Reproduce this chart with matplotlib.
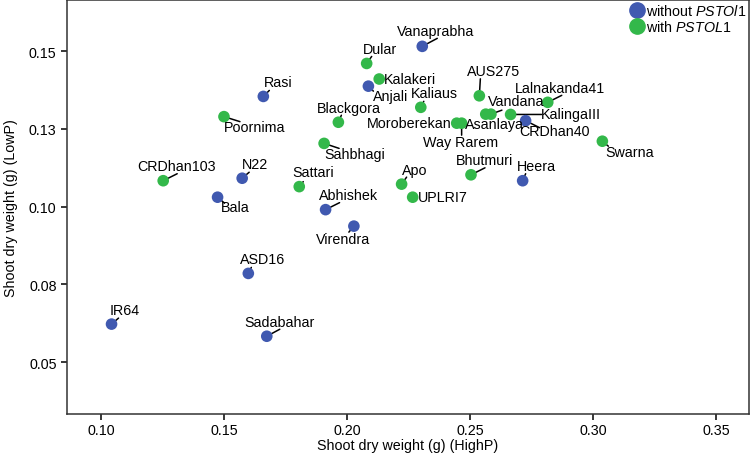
import matplotlib.pyplot as plt
from matplotlib.lines import Line2D

plt.rcParams['font.family'] = ['Liberation Sans', 'DejaVu Sans']
plt.rcParams['mathtext.fontset'] = 'custom'
plt.rcParams['mathtext.it'] = 'Liberation Sans:italic'
plt.rcParams['mathtext.rm'] = 'Liberation Sans'

# varieties without PSTOL1
blue_names = ['Vanaprabha', 'Anjali', 'CRDhan40', 'Heera', 'Rasi', 'N22', 'Bala',
              'Abhishek', 'Virendra', 'ASD16', 'IR64', 'Sadabahar']
blue_high = [0.2306, 0.2087, 0.2726, 0.2714, 0.1660, 0.1574, 0.1474,
             0.1913, 0.2028, 0.1599, 0.1043, 0.1674]
blue_low = [0.1515, 0.1387, 0.1276, 0.1083, 0.1354, 0.1091, 0.1030,
            0.0990, 0.0937, 0.0785, 0.0622, 0.0583]

# varieties with PSTOL1
green_names = ['Dular', 'Kalakeri', 'Kaliaus', 'Blackgora', 'Sahbhagi', 'AUS275',
               'Moroberekan', 'Way Rarem', 'Asanlaya', 'Vandana', 'KalingaIII',
               'Lalnakanda41', 'Swarna', 'Bhutmuri', 'Apo', 'UPLRI7', 'Poornima',
               'CRDhan103', 'Sattari']
green_high = [0.2080, 0.2131, 0.2300, 0.1965, 0.1907, 0.2538,
              0.2446, 0.2466, 0.2564, 0.2585, 0.2665,
              0.2816, 0.3038, 0.2504, 0.2222, 0.2267, 0.1500,
              0.1253, 0.1806]
green_low = [0.1460, 0.1410, 0.1319, 0.1271, 0.1203, 0.1356,
             0.1268, 0.1268, 0.1297, 0.1297, 0.1296,
             0.1335, 0.1210, 0.1102, 0.1072, 0.1030, 0.1289,
             0.1083, 0.1064]

# label centre offsets in pixels (dx right, dy down) relative to the point
offsets = {
    'Vanaprabha': (13, -15), 'Anjali': (22, 10), 'CRDhan40': (29, 10),
    'Heera': (14, -15), 'Rasi': (15, -14), 'N22': (13, -14), 'Bala': (18, 10),
    'Abhishek': (23, -15), 'Virendra': (-11, 13), 'ASD16': (14, -14),
    'IR64': (13, -14), 'Sadabahar': (13, -14),
    'Dular': (13, -14), 'Kalakeri': (31, 0), 'Kaliaus': (14, -14),
    'Blackgora': (11, -14), 'Sahbhagi': (31, 11), 'AUS275': (14, -25),
    'Moroberekan': (-47, 0), 'Way Rarem': (-1, 19), 'Asanlaya': (9, 10),
    'Vandana': (25, -13), 'KalingaIII': (60, 0), 'Lalnakanda41': (12, -14),
    'Swarna': (27, 11), 'Bhutmuri': (14, -15), 'Apo': (13, -14),
    'UPLRI7': (30, 0), 'Poornima': (31, 10), 'CRDhan103': (13, -15),
    'Sattari': (14, -15),
}

# end of the connector segment in pixels relative to the point (None = no segment)
seg_ends = {
    'Vanaprabha': (15, -8), 'Anjali': (5, 5), 'CRDhan40': (14, 7),
    'Heera': (3, -7), 'Rasi': (6, -6), 'N22': (7, -6), 'Bala': (7, 6),
    'Abhishek': (14, -7), 'Virendra': (-5, 6), 'ASD16': (3, -6),
    'IR64': (7, -6), 'Sadabahar': (13, -7),
    'Dular': (5, -7), 'Kalakeri': None, 'Kaliaus': (3, -6),
    'Blackgora': (3, -7), 'Sahbhagi': (15, 5), 'AUS275': (1, -17),
    'Moroberekan': None, 'Way Rarem': (0, 12), 'Asanlaya': None,
    'Vandana': (11, -4), 'KalingaIII': (31, 0), 'Lalnakanda41': (14, -7),
    'Swarna': (6, 5), 'Bhutmuri': (14, -7), 'Apo': (5, -7),
    'UPLRI7': None, 'Poornima': (16, 5), 'CRDhan103': (14, -7),
    'Sattari': (4, -5),
}

blue = '#4059b0'
green = '#33b84a'
fs = 10.3

fig = plt.figure(figsize=(7.51, 4.64), dpi=100)
ax = fig.add_axes([67 / 751, 1 - 415 / 464, 682 / 751, 414 / 464])

ax.scatter(blue_high, blue_low, s=70, color=blue, edgecolors='none', zorder=3)
ax.scatter(green_high, green_low, s=70, color=green, edgecolors='none', zorder=3)

px = 0.72  # pixels -> points
for names, xs, ys in [(blue_names, blue_high, blue_low), (green_names, green_high, green_low)]:
    for n, x, y in zip(names, xs, ys):
        dx, dy = offsets[n]
        ax.annotate(n, (x, y), xytext=(dx * px, -dy * px), textcoords='offset points',
                    ha='center', va='center', fontsize=fs, zorder=4)
        if seg_ends[n] is not None:
            ex, ey = seg_ends[n]
            ax.annotate('', (x, y), xytext=(ex * px, -ey * px), textcoords='offset points',
                        zorder=2, arrowprops=dict(arrowstyle='-', color='black', lw=1.1,
                                                  shrinkA=0, shrinkB=0))

ax.set_xlim(0.0862, 0.3634)
ax.set_ylim(0.0333, 0.1664)
ax.set_xticks([0.10, 0.15, 0.20, 0.25, 0.30, 0.35])
ax.set_xticklabels(['0.10', '0.15', '0.20', '0.25', '0.30', '0.35'])
ax.set_yticks([0.05, 0.075, 0.10, 0.125, 0.15])
ax.set_yticklabels(['0.05', '0.08', '0.10', '0.13', '0.15'])
ax.tick_params(direction='out', length=4.5, width=1.1, labelsize=fs, pad=3)
ax.tick_params(axis='x', pad=2)
for s in ax.spines.values():
    s.set_linewidth(1.1)
    s.set_color('#333333')

ax.set_xlabel('Shoot dry weight (g) (HighP)', fontsize=fs, labelpad=1)
ax.set_ylabel('Shoot dry weight (g) (LowP)', fontsize=fs, labelpad=8)

handles = [Line2D([], [], marker='o', ls='none', color=blue, markersize=11),
           Line2D([], [], marker='o', ls='none', color=green, markersize=11)]
ax.legend(handles, [r'without $\mathit{PSTOl1}$', r'with $\mathit{PSTOL1}$'],
          loc='upper right', frameon=False, fontsize=fs, handletextpad=-0.2,
          borderaxespad=0.0, labelspacing=0.05, borderpad=0.2, handlelength=1.6)

fig.savefig('out.png', dpi=100)
